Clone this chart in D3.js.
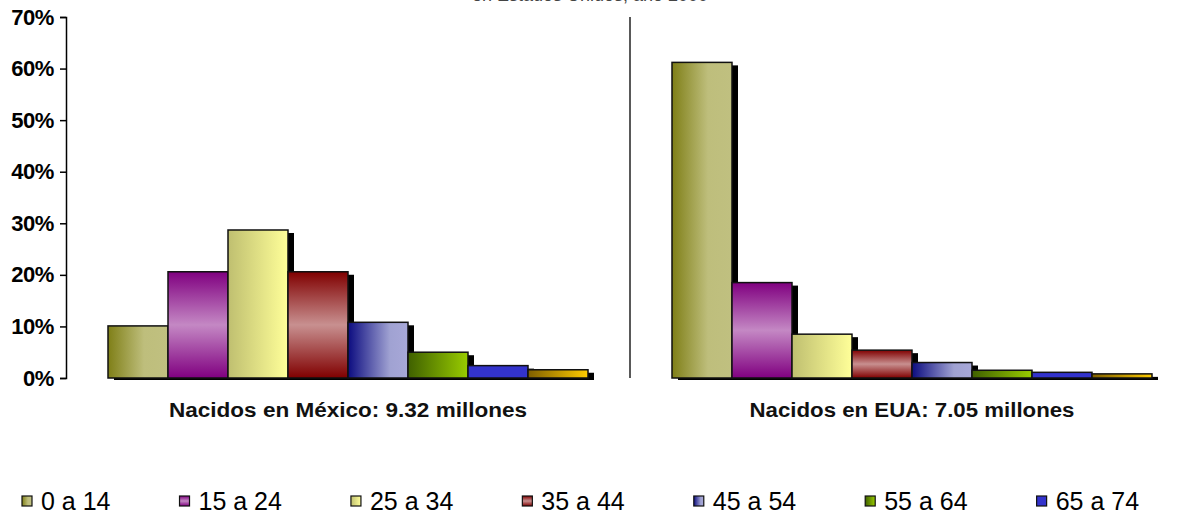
<!DOCTYPE html>
<html>
<head>
<meta charset="utf-8">
<script src="https://cdn.jsdelivr.net/npm/d3@7"></script>
<style>
  html, body { margin: 0; padding: 0; background: #fff; }
  svg { display: block; font-family: "Liberation Sans", Arial, sans-serif; }
</style>
</head>
<body>
<svg id="chart" width="1183" height="516"></svg>
<script>
// ---- data ----
const categories = ["0 a 14", "15 a 24", "25 a 34", "35 a 44", "45 a 54", "55 a 64", "65 a 74", "75 y más"];
const panels = ["México", "EUA"];
const panelLabels = ["Nacidos en México: 9.32 millones", "Nacidos en EUA: 7.05 millones"];
const mexicoValues = [0.101, 0.206, 0.287, 0.206, 0.108, 0.050, 0.024, 0.016];
const euaValues    = [0.612, 0.185, 0.085, 0.054, 0.030, 0.015, 0.011, 0.008];
const yTicks = [0, 0.1, 0.2, 0.3, 0.4, 0.5, 0.6, 0.7];
const titleText = "en Estados Unidos, año 2000";
const legendCount = 7; // the last legend entry falls outside the picture in the reference

// ---- styles ----
const fills = [
  {dir: "h", stops: [[0, "#7f7f17"], [0.6, "#bebe7c"], [1, "#c0c080"]]},
  {dir: "v", stops: [[0, "#800080"], [0.5, "#c488c4"], [1, "#800080"]]},
  {dir: "h", stops: [[0, "#bfbf70"], [1, "#ffff99"]]},
  {dir: "v", stops: [[0, "#800000"], [0.5, "#c89090"], [1, "#800000"]]},
  {dir: "h", stops: [[0, "#0c0c80"], [0.7, "#a0a2d2"], [1, "#a8a8d8"]]},
  {dir: "h", stops: [[0, "#3f6000"], [1, "#99cc00"]]},
  {dir: "h", stops: [[0, "#3333cc"], [1, "#3333cc"]]},
  {dir: "h", stops: [[0, "#7f5f00"], [1, "#ffcc00"]]}
];
const panelLabelWidths = [358, 325];

const svg = d3.select("#chart");

const defs = svg.append("defs");
fills.forEach((f, i) => {
  const g = defs.append("linearGradient").attr("id", "g" + i)
    .attr("x1", 0).attr("y1", 0)
    .attr("x2", f.dir === "h" ? 1 : 0).attr("y2", f.dir === "h" ? 0 : 1);
  f.stops.forEach(s => g.append("stop").attr("offset", s[0]).attr("stop-color", s[1]));
});

// ---- scales ----
const y = d3.scaleLinear().domain([0, 0.7]).range([378, 17]);
const x0 = d3.scaleBand().domain(panels).range([66, 1194]);
const x1 = d3.scaleBand().domain(categories).range([42, 522]);

// title (mostly cut off at top in reference)
svg.append("text").attr("x", 590).attr("y", 1)
  .attr("text-anchor", "middle").attr("font-size", 18).attr("fill", "#444")
  .text(titleText);

// y axis
const yAxis = d3.axisLeft(y).tickValues(yTicks).tickFormat(d3.format(".0%"))
  .tickSize(6).tickSizeOuter(6).tickPadding(6);
const ya = svg.append("g").attr("transform", "translate(66,0)").call(yAxis);
ya.select(".domain").attr("stroke", "#000").attr("stroke-width", 1.5);
ya.selectAll(".tick line").attr("stroke", "#000").attr("stroke-width", 1.5);
ya.selectAll(".tick text").attr("font-size", 22).attr("font-weight", "bold")
  .attr("fill", "#000").attr("font-family", "Liberation Sans, Arial, sans-serif")
  .attr("letter-spacing", "-0.4");

// separator
svg.append("line")
  .attr("x1", x0("EUA")).attr("x2", x0("EUA"))
  .attr("y1", y(0.7)).attr("y2", y(0))
  .attr("stroke", "#222").attr("stroke-width", 1.5);

const seriesByPanel = [mexicoValues, euaValues];

panels.forEach((p, pi) => {
  const g = svg.append("g").attr("transform", `translate(${x0(p)},0)`);
  const vals = seriesByPanel[pi];
  const data = categories.map((c, i) => ({c, i, v: vals[i]}));
  // shadows
  g.selectAll("rect.shadow").data(data).join("rect").attr("class", "shadow")
    .attr("x", d => x1(d.c) + 6)
    .attr("y", d => y(d.v) + 3)
    .attr("width", x1.bandwidth())
    .attr("height", d => y(0) - y(d.v) - 1)
    .attr("fill", "#000");
  // bars
  g.selectAll("rect.bar").data(data).join("rect").attr("class", "bar")
    .attr("x", d => x1(d.c))
    .attr("y", d => y(d.v))
    .attr("width", x1.bandwidth())
    .attr("height", d => y(0) - y(d.v))
    .attr("fill", d => `url(#g${d.i})`)
    .attr("stroke", "#111").attr("stroke-width", 1.5);
  // panel label
  g.append("text")
    .attr("x", x0.bandwidth() / 2).attr("y", 417)
    .attr("text-anchor", "middle").attr("font-size", 20).attr("font-weight", "bold")
    .attr("textLength", panelLabelWidths[pi]).attr("lengthAdjust", "spacingAndGlyphs")
    .attr("fill", "#111").text(panelLabels[pi]);
});

// legend: items laid out by text width plus a constant gap
const legend = svg.append("g");
let lx = 22;
categories.slice(0, legendCount).forEach((c, i) => {
  const lg = legend.append("g").attr("transform", `translate(${lx},496)`);
  lg.append("rect").attr("x", 0).attr("y", 0).attr("width", 10).attr("height", 10)
    .attr("fill", `url(#g${i})`).attr("stroke", "#111").attr("stroke-width", 1.2);
  const t = lg.append("text").attr("x", 19).attr("y", 14)
    .attr("font-size", 25).attr("fill", "#000").text(c);
  lx += 19 + t.node().getComputedTextLength() + 69;
});
</script>
</body>
</html>
